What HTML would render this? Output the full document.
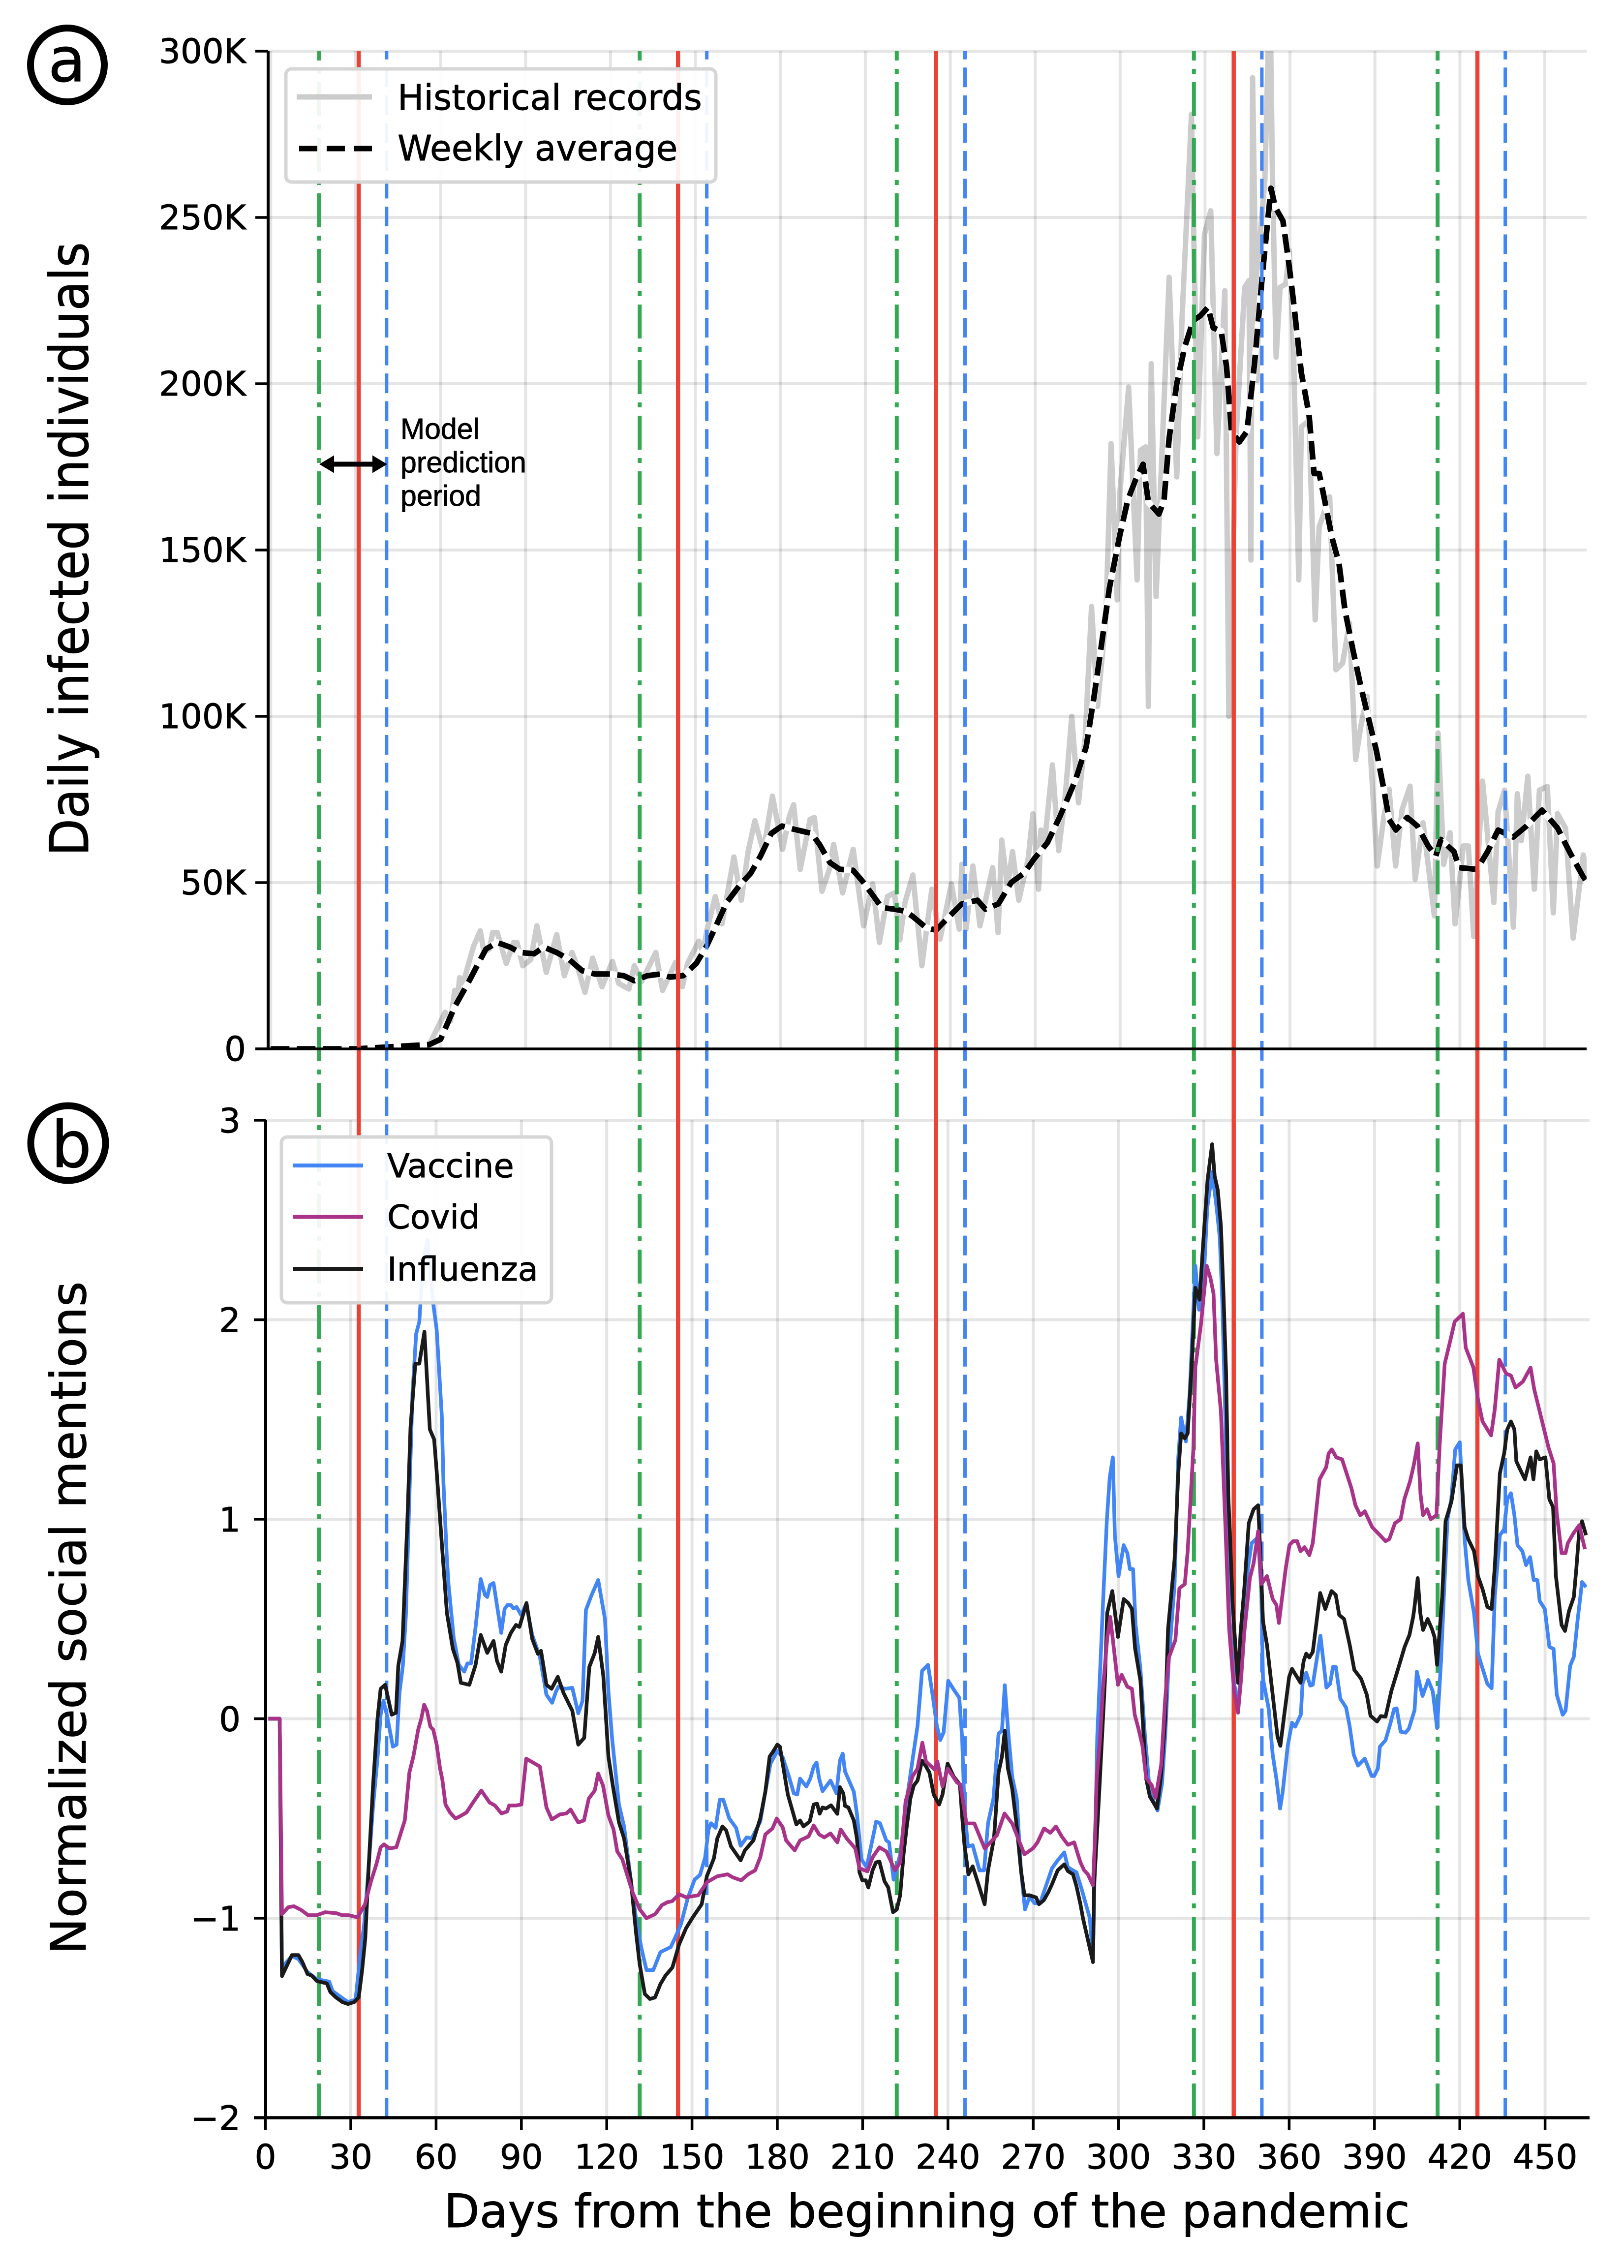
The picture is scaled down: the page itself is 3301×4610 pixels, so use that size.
<!DOCTYPE html>
<html lang="en">
<head>
<meta charset="utf-8">
<title>Daily infections and normalized social mentions</title>
<style>
html,body{margin:0;padding:0;background:#fff}
svg{display:block}
text{font-family:"DejaVu Sans","Liberation Sans",sans-serif;fill:#000;stroke:#000;stroke-width:0.9px}
</style>
</head>
<body>
<svg id="figure" xmlns="http://www.w3.org/2000/svg" width="3301" height="4610" viewBox="0 0 3301 4610">
<rect x="0" y="0" width="3301" height="4610" fill="#fff"/>
<defs>
<clipPath id="clip-a"><rect x="545" y="104" width="2680" height="2028"/></clipPath>
<clipPath id="clip-b"><rect x="540" y="2277" width="2691" height="2028"/></clipPath>
</defs>
<g id="grid-layer"></g>
<g id="series-a-layer" clip-path="url(#clip-a)"></g>
<g id="event-layer"></g>
<g id="series-b-layer" clip-path="url(#clip-b)"></g>
<g id="axis-layer"></g>

<g>
<circle cx="137" cy="132" r="75" fill="none" stroke="#000" stroke-width="14"/>
<text x="136" y="165" font-size="125" text-anchor="middle">a</text>
</g>
<g>
<circle cx="138.5" cy="2323.5" r="76" fill="none" stroke="#000" stroke-width="14"/>
<text x="145" y="2372" font-size="130" text-anchor="middle">b</text>
</g>

<text transform="translate(179,1116) rotate(-90) scale(1,1.1)" font-size="99" text-anchor="middle">Daily infected individuals</text>
<text transform="translate(174,3288.5) rotate(-90)" font-size="99" text-anchor="middle">Normalized social mentions</text>
<text x="1884" y="4527" font-size="94" text-anchor="middle">Days from the beginning of the pandemic</text>

<g>
<rect x="581" y="140" width="874" height="230" rx="12" ry="12" fill="#fff" fill-opacity="0.92" stroke="#d6d6d6" stroke-width="7"/>
<line x1="603" y1="197" x2="756" y2="197" stroke="#cccccc" stroke-width="11"/>
<text x="808" y="223" font-size="71">Historical records</text>
<line x1="608" y1="302" x2="756" y2="302" stroke="#000" stroke-width="11" stroke-dasharray="37 19"/>
<text x="808" y="326" font-size="71">Weekly average</text>
</g>

<g>
<line x1="675" y1="943.5" x2="761" y2="943.5" stroke="#000" stroke-width="10"/>
<polygon points="649,943.5 679,925.5 679,961.5" fill="#000"/>
<polygon points="787,943.5 757,925.5 757,961.5" fill="#000"/>
<text x="814" y="892" font-size="59" style="font-family:'Liberation Sans',sans-serif">Model</text>
<text x="814" y="960" font-size="59" style="font-family:'Liberation Sans',sans-serif">prediction</text>
<text x="814" y="1028" font-size="59" style="font-family:'Liberation Sans',sans-serif">period</text>
</g>

<g>
<rect x="572" y="2311" width="549" height="337" rx="12" ry="12" fill="#fff" fill-opacity="0.92" stroke="#d6d6d6" stroke-width="7"/>
<line x1="596" y1="2369" x2="738" y2="2369" stroke="#4285F4" stroke-width="8"/>
<text x="787" y="2393" font-size="67">Vaccine</text>
<line x1="596" y1="2473.5" x2="738" y2="2473.5" stroke="#A83388" stroke-width="8"/>
<text x="787" y="2497" font-size="67">Covid</text>
<line x1="596" y1="2579" x2="738" y2="2579" stroke="#1a1a1a" stroke-width="8"/>
<text x="787" y="2603" font-size="67">Influenza</text>
</g>
</svg>

<script>
// ----- axis ticks -----
const dayTicks = [0,30,60,90,120,150,180,210,240,270,300,330,360,390,420,450];
const casesTicks = [0,50,100,150,200,250,300];
const casesTickLabels = ['0','50K','100K','150K','200K','250K','300K'];
const mentionTicks = [-2,-1,0,1,2,3];
const mentionTickLabels = ['\u22122','\u22121','0','1','2','3'];

// ----- event days -----
const trainEndDays = [18.8,131.6,222,326.5,412.2];
const todayDays = [32.8,145.1,235.8,340.5,426.2];
const predictionEndDays = [42.6,155.2,246,350.4,436];

// ----- panel a: daily cases in thousands -----
const historicalDays = [0,30,56,61.6,63.5,65,66.2,66.7,68,69.9,71.7,74,75.3,77.2,78.4,80,83.2,85.8,87,89,91.8,94,97.3,101,103.7,106.4,108.2,111,113.7,117,120.7,122.9,126.5,128.4,131,136,138.4,143,145.4,147.2,151.2,152.7,154,157,159.4,163.6,166.2,168.6,171,174,177.2,180.8,183.2,184.7,187,190.5,192,194.7,197.5,198.8,202,205.7,209.4,212.6,215,217.8,220.3,222.2,224,226.8,230,233.5,236.4,240.4,243.2,244.1,245.6,248,250.5,255,256.9,258.2,260.2,262,264.2,267.5,269.2,271.2,272,273.4,276.1,278.3,280.7,282.9,285.3,287.7,289.9,292,295,296.8,299,299.9,303,306,307.2,309,310,311,312.7,317.3,320,321.9,325.2,327.4,329.8,332,334.2,337,338.4,341,344,345.5,346.2,346.8,348.4,349.3,351.1,352.9,353.8,355.1,356.5,358.5,359.8,361.2,363.1,364,366.7,368.9,370.3,374,376.2,378.6,381,383.2,385,387.2,390.8,393.2,395,397.3,399.6,402.4,404.2,407,411,412.3,414.3,416.5,418.3,421.2,423,424.9,428,432,433.5,435.8,438.9,440.3,441.7,444,446.3,448.1,450.9,453,454.5,457.3,460,463.6,465];
const historicalCases = [0,0,1.3,11,8.4,17.6,17,21.4,19.7,25.7,31,35.5,29,30,35,35,25.7,32,32,25,26.8,37,23,34.4,22,29,25,17,27.3,18.7,26.3,19.7,18,25,20.3,29,17.6,26,18.7,25.7,32.4,29,35.5,45.8,37.6,57.7,44.7,59.3,68.6,59.3,76,60,70,73.4,54,69,69.6,47.4,54.5,61.5,46.9,60,37,49.6,32,45.8,46.9,32.8,44,52.3,25,48,33,49.6,36,55.5,36,55,37,54.5,35,62.8,48.5,59.3,44.7,57,70.7,48,65.8,62.6,85.4,59.6,76.7,100,74,94,133,103,130,182,135,167,199,141,180,181,103,206,136,232,172,220,281,184,245,252,179,228,100,185,229,231,147,292,201,243,261,320,263,208,229,230,240,212,141,187,189,129,157,166,114,116,128,87,97,106,55,70,78,55,72,79,51,68,40,95,55.5,65,37.6,61,61,33.8,80.5,44,71.3,77.8,36.6,76.7,62.6,82,48,77.8,78.9,40.9,70.7,66.4,33.3,58.3,52];
const weeklyDays = [0,30,56,60,65,70,73.5,76,80,84.5,88,93,96.4,101,105.5,110,114.6,120,124.7,128.4,133,137.5,141,145.7,150.3,154,157.6,161,166,169.5,173,176.8,180.5,185,191,193.8,197.5,201,205.7,209.4,213,215.8,220.3,224,226.8,231.4,235,239.6,244.1,249.6,252.4,257,261.5,266,269.7,274.3,278.8,284.3,288,290.8,293.5,296.2,299.9,302.7,305.4,308.1,310,313.7,315.5,317.3,320,322.8,325.8,328.3,331,332.9,335.7,337.6,339.3,342.1,344.8,347.5,350.2,352,353.3,354.8,357.5,359.4,361.2,364,366.7,368.5,370.3,372,374.9,377.3,379.4,382.2,385,387.7,390.5,393.2,395,397.4,401.4,405,408.8,411.5,413.3,417.9,419.7,426,429.8,433.5,438.9,443.5,449,454.5,459,463.6,465];
const weeklyCases = [0,0,1.3,2.9,12.7,20.3,26,30,32,30.6,29,28.6,30.6,29,26.8,23.5,22.5,22.5,22,20.5,22,22.5,21.6,22,25.7,31,37.6,44,49.6,52.8,58,64.8,67,66,64.8,61.5,56,54,53.7,50,45.8,42.5,42,41.4,39.8,36.5,35.7,39.8,43.6,44.7,42,43.6,50,52.8,57.2,62,70,81,90.8,106,122,138.5,154.5,165,171,175.8,164.4,160.8,165,183.6,200,211,219,220.4,223,216.8,215.8,205,185.7,182.5,185.7,206.4,232.4,248,258.8,253,249,237.5,225,203.3,190.8,173,173,166,153.5,146,132,120,109,99.5,89.7,77.8,69,65.8,69.6,67,61,58,63,59.3,54.5,54,59.3,65.8,63.7,67,71.8,66.4,58.8,51.7,50];

// ----- panel b: normalized mentions -----
const vaccineDays = [1,5,5.8,6.8,9.3,11.6,14.8,18.1,22.4,23.6,26.6,29,31.7,33.2,34.7,36.3,37.8,39.4,40.5,41.5,42.9,44.8,46.1,47.1,48.3,49.4,50.6,51.7,53,54.1,55.5,57,59,60.2,61,62,62.6,63.8,64.4,66.2,68,69.9,71,72.3,73.9,75.7,77.2,78,79,80.2,81.4,82.9,84.1,85.1,86.3,87.2,88.3,89.9,91.7,93.8,96.5,98.8,100.8,102.2,103,105.5,107.9,110,111.5,112.7,114.6,117,119.4,120.6,121.9,124.3,126.1,128.5,130.3,132.2,134,136.4,138.9,142.5,144.3,146.1,148.5,150.9,152.8,154.6,155.8,156.7,158.3,159.8,161,163.1,165.5,167.1,169.2,171,174,175.8,177.6,180,181.9,184.3,185.8,187,188,190.2,191.6,192.8,193.8,194.7,195.9,198.7,200.8,202,203,203.8,206.9,208,209.6,211.4,214.2,214.7,216.1,218.3,219.3,220.9,223.2,225.6,227.5,229.3,230.9,233,234.9,236.1,237.3,238.5,240.1,242.1,244,245,245.8,247,248.7,251.1,252.7,254.1,256,257.8,259,260,261.1,262.6,264.2,265.7,267.1,268.7,270.5,272.4,274.1,276.6,278.6,280.9,282.2,285.2,287.2,289.9,291,292.5,293.8,294.5,295.9,296.9,298,298.7,300,301.8,303.1,304,305.1,306,307.7,309.3,311,313.7,315.3,316.4,317.7,319.7,321,322,323.7,325,326.3,327,328.3,329.6,331.2,332.9,334.5,335.6,336.5,337.6,338.9,340.6,342.2,343.5,345.5,346.8,349.1,350.2,350.8,352.8,354.2,355.5,356.8,357.7,359.5,361,362.1,364.1,364.7,366,367.4,368.3,369.4,371,373.1,374.4,375.4,376.4,378,380,381.3,382.7,384.2,386.6,389,389.9,391.2,391.9,393.9,395.6,396.9,397.8,399.2,400.9,402.1,404.1,404.9,406.9,408.9,410.5,412,413.4,414.4,415.7,417,418.4,420,421.7,423,425,426.4,427.7,429.7,431.2,432.3,434.1,435.6,436.7,438,439.2,440.3,442,443.3,444.7,446,447.3,448.1,449.9,451.5,453,454.1,456.2,457.2,458.8,460.1,461.4,463,464.4];
const vaccineValues = [0,0,-1.27,-1.23,-1.19,-1.205,-1.27,-1.306,-1.318,-1.365,-1.396,-1.42,-1.408,-1.2,-1.03,-0.74,-0.445,-0.2,0.02,0.09,0.005,-0.14,-0.13,0.126,0.265,0.52,1.11,1.63,1.93,1.99,2.3,2.4,2.08,1.95,1.76,1.52,1.18,0.8,0.67,0.405,0.27,0.236,0.277,0.277,0.46,0.7,0.62,0.61,0.67,0.68,0.57,0.43,0.55,0.57,0.57,0.553,0.56,0.52,0.575,0.42,0.31,0.12,0.08,0.137,0.16,0.15,0.155,0.027,0.09,0.545,0.617,0.695,0.5,0.137,-0.1,-0.43,-0.54,-0.81,-1,-1.15,-1.26,-1.26,-1.17,-1.145,-1.09,-1.03,-0.9,-0.807,-0.783,-0.697,-0.555,-0.524,-0.547,-0.406,-0.406,-0.5,-0.547,-0.637,-0.595,-0.6,-0.516,-0.366,-0.225,-0.162,-0.193,-0.3,-0.374,-0.38,-0.3,-0.34,-0.3,-0.24,-0.22,-0.3,-0.363,-0.31,-0.374,-0.21,-0.175,-0.264,-0.366,-0.477,-0.705,-0.744,-0.555,-0.516,-0.524,-0.61,-0.62,-0.807,-0.68,-0.4,-0.21,-0.036,0.24,0.27,0.09,-0.036,-0.107,-0.068,0.19,0.145,0.105,-0.1,-0.445,-0.64,-0.634,-0.76,-0.76,-0.524,-0.4,-0.075,-0.06,0.168,-0.05,-0.29,-0.4,-0.76,-0.956,-0.893,-0.925,-0.925,-0.854,-0.75,-0.71,-0.67,-0.745,-0.77,-0.863,-1,-1.2,-0.09,0.335,0.57,1,1.21,1.31,0.92,0.715,0.87,0.83,0.75,0.75,0.47,0.25,-0.09,-0.37,-0.46,-0.325,-0.09,0.3,0.675,1.31,1.51,1.39,1.63,2.04,2.27,2.05,2.1,2.56,2.74,2.56,2.41,2.08,1.49,0.51,0.18,0.06,0.41,0.757,0.88,0.91,0.63,0.2,0.05,-0.18,-0.3,-0.45,-0.37,-0.136,-0.02,-0.04,0.02,0.175,0.23,0.166,0.17,0.27,0.416,0.156,0.175,0.26,0.26,0.1,0.057,-0.04,-0.18,-0.235,-0.2,-0.287,-0.287,-0.25,-0.14,-0.108,-0.023,0.048,0.052,-0.065,-0.07,-0.05,0.043,0.236,0.114,0.194,0.137,-0.047,0.288,0.61,1,1.1,1.35,1.386,0.9,0.695,0.53,0.327,0.266,0.174,0.153,0.61,0.92,0.95,1.1,1.13,1.02,0.87,0.84,0.77,0.81,0.695,0.695,0.59,0.55,0.36,0.35,0.12,0.02,0.04,0.265,0.31,0.49,0.685,0.66];
const covidDays = [1,5,5.8,8,10,12.7,15,18,21,25,27,29.3,32.4,35,37,39,40.5,41.7,43.6,46,49,50.6,52,53.7,54.8,55.8,56.8,58,59,60.2,61.4,62.2,63.3,64.9,66.8,68.3,70.7,73,75.9,78.8,80.7,83,85,85.7,88,90,91.7,96.5,98.8,100.7,103.5,105.8,107.3,110,112,113.7,115.8,117,118.7,120.6,122.4,123.7,125.5,129.1,131.6,134,137,139.4,141.3,143,145.5,147.9,152.2,155.2,158.9,162.5,164.3,167.3,169.7,172.2,174,175.8,178.3,179.8,181.9,183.1,186.1,188,191,192.8,194.7,196.5,198.7,201.1,202.3,204.4,207.4,208.9,211.7,213.5,215.9,218.3,221.4,223.2,225.1,227.5,229.3,231,232.3,235.3,236.3,238.1,239.9,243.2,244.4,246.5,249.3,252.9,257.2,259.9,262.6,266.9,269.9,271.5,273.8,276,278,280,282.2,284.4,286.6,287.9,289.2,291,291.7,292.3,293.5,294.5,296,297.1,299.8,301.1,303.1,304.7,305.7,307,308.4,309.7,311.7,313,315,316.4,317.7,320,321.4,323.3,324.3,326.3,327,329,331,332.3,333.4,334.3,336,337.6,338.9,340.6,342,343.1,344.2,346.2,347.5,349.1,350.2,352.2,354.2,355.5,356.4,358.8,360.1,361.4,362.8,364,365.4,367.1,368.3,370.7,373,373.9,375,376.6,378.6,381.9,383.3,385,386.6,389.2,391.9,393.9,395.2,397.2,399.2,400.5,402.5,403.8,405.2,406.2,407.1,408.5,409.8,411.8,412.9,414.7,416.4,418.2,421.1,422.1,424.8,426.4,428,431,432.3,433.9,436.3,438,439.6,442.2,444.9,446.2,448.1,451.2,453,454.1,455.8,457.2,458,460,462,464];
const covidValues = [0,0,-0.98,-0.945,-0.94,-0.96,-0.985,-0.985,-0.97,-0.975,-0.985,-0.985,-0.996,-0.93,-0.82,-0.73,-0.645,-0.63,-0.65,-0.645,-0.51,-0.27,-0.19,-0.055,0,0.07,0.04,-0.04,-0.055,-0.13,-0.25,-0.305,-0.43,-0.47,-0.5,-0.49,-0.47,-0.42,-0.36,-0.42,-0.435,-0.475,-0.465,-0.435,-0.435,-0.43,-0.2,-0.24,-0.445,-0.505,-0.48,-0.475,-0.455,-0.52,-0.51,-0.4,-0.36,-0.275,-0.335,-0.485,-0.555,-0.665,-0.705,-0.87,-0.955,-1,-0.98,-0.935,-0.92,-0.915,-0.88,-0.895,-0.885,-0.82,-0.79,-0.78,-0.795,-0.81,-0.78,-0.76,-0.695,-0.58,-0.55,-0.5,-0.545,-0.61,-0.66,-0.61,-0.59,-0.535,-0.58,-0.595,-0.575,-0.62,-0.555,-0.6,-0.65,-0.75,-0.765,-0.695,-0.645,-0.665,-0.76,-0.72,-0.415,-0.29,-0.25,-0.12,-0.215,-0.255,-0.215,-0.34,-0.25,-0.32,-0.33,-0.525,-0.525,-0.65,-0.585,-0.475,-0.525,-0.68,-0.65,-0.62,-0.55,-0.572,-0.54,-0.59,-0.632,-0.62,-0.72,-0.76,-0.78,-0.835,-0.6,-0.3,-0.1,0.15,0.4,0.51,0.17,0.22,0.16,0.15,0.02,-0.05,-0.136,-0.297,-0.334,-0.396,-0.23,0.1,0.307,0.395,0.654,0.675,0.84,1.35,1.76,1.98,2.27,2.21,2.13,1.8,1.54,0.96,0.45,0.143,0.03,0.2,0.43,0.705,0.78,0.94,0.675,0.715,0.6,0.57,0.48,0.755,0.87,0.89,0.89,0.84,0.86,0.82,0.88,1.2,1.26,1.33,1.35,1.31,1.3,1.155,1.07,1.02,1.04,0.96,0.92,0.89,0.9,0.98,1,1.1,1.19,1.27,1.38,1.125,1.02,1.05,1,1.02,1.37,1.78,1.88,1.99,2.03,1.86,1.76,1.6,1.49,1.42,1.55,1.8,1.73,1.72,1.66,1.69,1.76,1.65,1.54,1.36,1.28,1.03,0.83,0.83,0.88,0.93,0.97,0.85];
const influenzaDays = [1,5,5.8,9.3,11.6,13,14.8,16.2,18.1,21.6,22.8,24.7,27,29,31.3,32.8,34,35.1,36.3,37.8,39.4,40.5,42.1,44.4,45.9,46.7,48.2,49.9,51,52.7,54.1,55.9,57.1,57.8,59.3,60.2,62,63.8,65.9,67.5,68.7,71.7,73.9,75.7,78,80.2,81.4,82.9,84.5,86.3,88.1,89.3,91.8,93.8,95.8,96.9,98.8,100.6,102.8,104.8,107.9,110,112.1,113.9,115.8,117,118.8,120.6,122.1,124.3,126.1,128.5,130.3,131.6,133.4,135.2,137,138.9,140.7,143.1,145.5,147.9,150.3,153.4,155.2,157.7,158.9,160.7,162,163.7,167.1,168.6,171.6,174,175.8,177.3,178.5,180,180.9,183.7,186.7,188,189.2,191.4,192.8,194,194.9,195.9,197.1,198.9,201.1,202,203.2,203.8,205,206.9,208,208.9,209.9,211.1,212,213.5,214.7,215.9,217.7,219,220.7,222,223.2,224.4,225.4,226.8,228,229.3,230.9,232.3,233.5,235,236.9,238.1,239.9,242,244.2,245,245.8,247.2,248.7,250.5,252.9,254.1,256.2,257.8,259,260,261.1,262.6,264.2,265.7,266.9,268.7,271,272,273.7,275.3,276.6,278.6,280.9,282.2,284,285.2,286.6,287.5,291,291.4,293.2,295.2,296,297.8,299.8,301.8,303.4,304.7,305.8,307.7,309.7,311,313.5,315,316.4,317.4,319.7,321,322,323.3,324.3,325.7,327,328.5,329.6,331.3,332.9,333.8,334.9,336,336.9,337.8,338.6,340.2,342,342.9,344.2,345.8,347.5,349.1,349.9,350.8,352.2,354.2,355.9,356.9,358.1,360,361,364,365.1,366,367.1,368.3,370.9,372.7,374.9,376.4,377.6,379.3,381.3,382.9,385.3,387.3,388.6,390.9,392.2,393.9,395.9,398.3,400.6,402.3,403.6,404,405.2,406.1,407.1,408.7,410.2,411.1,412,413.8,415,417.1,419,420.4,421.7,423,425,426.4,428,429.7,431.2,432.3,434.1,435.6,436.7,438,439.2,439.9,441.2,442.9,444.9,445.9,446.9,448.1,450.1,451.5,452.8,453.8,455.8,457,458.4,460.1,461,462,463,464.4];
const influenzaValues = [0,0,-1.29,-1.185,-1.185,-1.22,-1.28,-1.287,-1.315,-1.327,-1.37,-1.396,-1.42,-1.43,-1.42,-1.396,-1.26,-1.1,-0.74,-0.34,0,0.15,0.17,0.02,0.03,0.265,0.39,0.99,1.46,1.78,1.78,1.94,1.63,1.45,1.4,1.24,0.88,0.53,0.35,0.28,0.18,0.17,0.27,0.42,0.33,0.39,0.29,0.236,0.37,0.43,0.47,0.46,0.58,0.4,0.325,0.34,0.17,0.15,0.21,0.13,0.04,-0.13,-0.096,0.26,0.33,0.41,0.215,-0.19,-0.33,-0.52,-0.6,-0.81,-1.07,-1.23,-1.38,-1.405,-1.397,-1.33,-1.287,-1.247,-1.13,-1.05,-0.995,-0.93,-0.79,-0.7,-0.6,-0.54,-0.56,-0.64,-0.71,-0.66,-0.61,-0.5,-0.365,-0.19,-0.165,-0.13,-0.14,-0.38,-0.53,-0.51,-0.54,-0.515,-0.43,-0.426,-0.476,-0.445,-0.45,-0.434,-0.477,-0.343,-0.374,-0.437,-0.445,-0.51,-0.6,-0.77,-0.81,-0.81,-0.846,-0.76,-0.72,-0.716,-0.815,-0.846,-0.97,-0.956,-0.885,-0.68,-0.555,-0.4,-0.335,-0.31,-0.21,-0.24,-0.27,-0.38,-0.43,-0.38,-0.225,-0.29,-0.33,-0.49,-0.63,-0.78,-0.74,-0.82,-0.93,-0.76,-0.6,-0.27,-0.19,-0.06,-0.25,-0.35,-0.54,-0.76,-0.885,-0.885,-0.896,-0.93,-0.91,-0.87,-0.83,-0.76,-0.73,-0.764,-0.78,-0.84,-0.93,-1,-1.22,-0.84,-0.37,0.19,0.53,0.64,0.41,0.6,0.58,0.55,0.354,0.19,-0.3,-0.39,-0.45,-0.28,0,0.45,0.8,1.23,1.43,1.405,1.43,1.76,2.16,2.1,2.35,2.7,2.88,2.72,2.65,2.47,2.13,1.74,1.12,0.55,0.18,0.43,0.65,0.98,1.05,1.07,0.82,0.49,0.37,0.12,-0.09,-0.136,0,0.21,0.25,0.18,0.29,0.326,0.307,0.335,0.63,0.55,0.64,0.62,0.52,0.5,0.37,0.245,0.2,0.12,0.015,-0.014,0.013,0.01,0.137,0.25,0.36,0.42,0.51,0.55,0.705,0.53,0.445,0.5,0.45,0.41,0.27,0.61,0.99,1.09,1.27,1.27,0.96,0.9,0.84,0.715,0.65,0.56,0.55,0.76,1.23,1.33,1.45,1.49,1.45,1.29,1.25,1.2,1.31,1.2,1.34,1.3,1.31,1.1,1.06,0.715,0.47,0.44,0.54,0.61,0.755,0.94,0.99,0.92];

// ----- scales -----
function xA(day){ return 550.3 + 5.755 * day; }
function yA(thousands){ return 2132 - 6.76 * thousands; }
function xB(day){ return 539.6 + 5.78 * day; }
function yB(value){ return 3493.5 - 405.5 * value; }

const SVGNS = 'http://www.w3.org/2000/svg';
function make(tag, parent, attrs){
  const el = document.createElementNS(SVGNS, tag);
  Object.keys(attrs).forEach(function(k){ el.setAttribute(k, attrs[k]); });
  parent.appendChild(el);
  return el;
}
function pathFrom(days, values, sx, sy){
  const n = Math.min(days.length, values.length);
  let d = '';
  for (let i = 0; i < n; i++) {
    d += (i ? 'L' : 'M') + sx(days[i]).toFixed(1) + ' ' + sy(values[i]).toFixed(1);
  }
  return d;
}
const gridLayer = document.getElementById('grid-layer');
const seriesA = document.getElementById('series-a-layer');
const eventLayer = document.getElementById('event-layer');
const seriesB = document.getElementById('series-b-layer');
const axisLayer = document.getElementById('axis-layer');
const GRID = {stroke:'#000','stroke-opacity':0.1,'stroke-width':6};

// ----- grid -----
dayTicks.forEach(function(day){
  const a = make('line', gridLayer, Object.assign({x1:xA(day),x2:xA(day),y1:104,y2:2132}, GRID));
  
  
  const b = make('line', gridLayer, Object.assign({x1:xB(day),x2:xB(day),y1:2277,y2:4304}, GRID));
  
  
});
casesTicks.forEach(function(v){
  if (v === 0) return;
  const g = make('line', gridLayer, Object.assign({x1:545,x2:3225,y1:yA(v),y2:yA(v)}, GRID));
  
  
});
mentionTicks.forEach(function(v){
  if (v === -2) return;
  const g = make('line', gridLayer, Object.assign({x1:540,x2:3231,y1:yB(v),y2:yB(v)}, GRID));
  
  
});

// ----- panel a series -----
const histLine = make('path', seriesA, {d:pathFrom(historicalDays, historicalCases, xA, yA), fill:'none', stroke:'#000', 'stroke-opacity':0.2, 'stroke-width':11, 'stroke-linejoin':'round'});


const weeklyHalo = make('path', seriesA, {d:pathFrom(weeklyDays, weeklyCases, xA, yA), fill:'none', stroke:'#fff', 'stroke-width':13, 'stroke-linejoin':'round'});


const weeklyLine = make('path', seriesA, {d:pathFrom(weeklyDays, weeklyCases, xA, yA), fill:'none', stroke:'#000', 'stroke-width':11.5, 'stroke-dasharray':'38 15', 'stroke-linejoin':'round'});



// ----- event lines spanning both panels -----
trainEndDays.forEach(function(day){
  const l = make('line', eventLayer, {x1:xB(day),x2:xB(day),y1:4304,y2:104,stroke:'#34A853','stroke-width':8,'stroke-dasharray':'69 17 10 17'});
  
  
});
todayDays.forEach(function(day){
  const l = make('line', eventLayer, {x1:xB(day),x2:xB(day),y1:4304,y2:104,stroke:'#EA4335','stroke-width':8.5});
  
  
});
predictionEndDays.forEach(function(day){
  const l = make('line', eventLayer, {x1:xB(day),x2:xB(day),y1:4304,y2:104,stroke:'#4285F4','stroke-width':7,'stroke-dasharray':'40 16.53'});
  
  
});

// ----- panel b series -----
const LINE = {fill:'none','stroke-width':7.5,'stroke-linejoin':'round'};
const vaccineLine = make('path', seriesB, Object.assign({d:pathFrom(vaccineDays, vaccineValues, xB, yB), stroke:'#4285F4'}, LINE));


const influenzaLine = make('path', seriesB, Object.assign({d:pathFrom(influenzaDays, influenzaValues, xB, yB), stroke:'#1a1a1a'}, LINE));


const covidLine = make('path', seriesB, Object.assign({d:pathFrom(covidDays, covidValues, xB, yB), stroke:'#A83388'}, LINE));



// ----- axes -----
const spineA = make('line', axisLayer, {x1:545,x2:545,y1:104,y2:2134.5,stroke:'#000','stroke-width':6});


const baseA = make('line', axisLayer, {x1:519,x2:3225,y1:2132,y2:2132,stroke:'#000','stroke-width':5.5});


const spineB = make('line', axisLayer, {x1:540,x2:540,y1:2277,y2:4307,stroke:'#000','stroke-width':6});


const baseB = make('line', axisLayer, {x1:516,x2:3231,y1:4304.5,y2:4304.5,stroke:'#000','stroke-width':6.5});



casesTicks.forEach(function(v, i){
  const t = make('line', axisLayer, {x1:519,x2:545,y1:yA(v),y2:yA(v),stroke:'#000','stroke-width':5.5});
  
  
  const lab = make('text', axisLayer, {x:500,y:yA(v)+24,'font-size':69,'text-anchor':'end'});
  lab.textContent = casesTickLabels[i];
  
  
});
mentionTicks.forEach(function(v, i){
  const t = make('line', axisLayer, {x1:516,x2:540,y1:yB(v),y2:yB(v),stroke:'#000','stroke-width':5.5});
  
  
  const lab = make('text', axisLayer, {x:489,y:yB(v)+25,'font-size':69,'text-anchor':'end'});
  lab.textContent = mentionTickLabels[i];
  
  
});
dayTicks.forEach(function(day){
  const t = make('line', axisLayer, {x1:xB(day),x2:xB(day),y1:4304,y2:4330,stroke:'#000','stroke-width':5.5});
  
  
  const lab = make('text', axisLayer, {x:xB(day),y:4408,'font-size':69,'text-anchor':'middle'});
  lab.textContent = String(day);
  
  
});
</script>
</body>
</html>
